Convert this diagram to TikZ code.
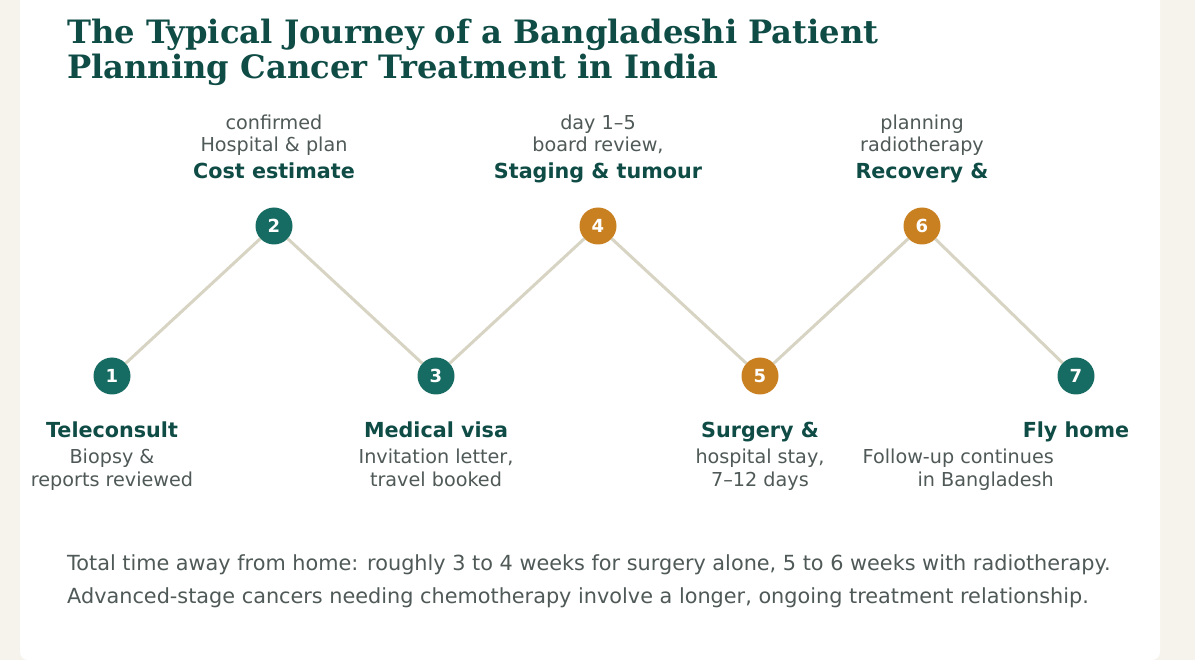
\documentclass[tikz,border=0pt]{standalone}
\usepackage{fontspec}
\setmainfont{DejaVu Sans}
\newfontfamily\titlefont{DejaVu Serif}
\usetikzlibrary{positioning}

\definecolor{bgcream}{HTML}{F6F3EC}
\definecolor{darkteal}{HTML}{0F4C46}
\definecolor{tealdot}{HTML}{166B62}
\definecolor{ochredot}{HTML}{C98021}
\definecolor{trailline}{HTML}{D8D4C3}
\definecolor{notegray}{HTML}{4F5957}

\begin{document}
\begin{tikzpicture}[x=1pt,y=-1pt]
	\tikzset{
		stepdot/.style={circle, minimum size=37pt, inner sep=0pt, text=white, font=\fontsize{18}{18}\selectfont\bfseries},
		tealstep/.style={stepdot, fill=tealdot},
		ochrestep/.style={stepdot, fill=ochredot},
		steplabel/.style={text=darkteal, inner sep=0pt, anchor=base, font=\fontsize{20.7}{24}\selectfont\bfseries},
		stepnote/.style={text=notegray, inner sep=0pt, anchor=base, font=\fontsize{19.2}{23}\selectfont},
		trail/.style={draw=trailline, line width=3pt},
		footnote/.style={text=notegray, inner sep=0pt, anchor=base west, font=\fontsize{20.8}{24}\selectfont}
	}
	\clip (0,0) rectangle (1195,660);
	\fill[bgcream] (0,0) rectangle (1195,660);
	\fill[white, rounded corners=8pt] (20,-20) rectangle (1160,660);

	% title
	\node[text=darkteal, inner sep=0pt, anchor=base west, font=\titlefont\fontsize{32.2}{36}\selectfont\bfseries] (title1) at (67,43.3) {The Typical Journey of a Bangladeshi Patient};
	\node[text=darkteal, inner sep=0pt, anchor=base west, font=\titlefont\fontsize{32.2}{36}\selectfont\bfseries] (title2) at (67,79) {Planning Cancer Treatment in India};

	% steps
	\node[tealstep] (s1) at (112,376) {1};
	\node[tealstep] (s2) at (274,226) {2};
	\node[tealstep] (s3) at (436,376) {3};
	\node[ochrestep] (s4) at (598,226) {4};
	\node[ochrestep] (s5) at (760,376) {5};
	\node[ochrestep] (s6) at (922,226) {6};
	\node[tealstep] (s7) at (1076,376) {7};

	\draw[trail] (s1) -- (s2);
	\draw[trail] (s2) -- (s3);
	\draw[trail] (s3) -- (s4);
	\draw[trail] (s4) -- (s5);
	\draw[trail] (s5) -- (s6);
	\draw[trail] (s6) -- (s7);

	% labels above
	\node[stepnote] (n2a) at (274,129.3) {confirmed};
	\node[stepnote] (n2b) at (274,151.7) {Hospital \& plan};
	\node[steplabel] (l2) at (274,179) {Cost estimate};
	\node[stepnote] (n4a) at (598,129.3) {day 1–5};
	\node[stepnote] (n4b) at (598,151.7) {board review,};
	\node[steplabel] (l4) at (598,179) {Staging \& tumour};
	\node[stepnote] (n6a) at (922,129.3) {planning};
	\node[stepnote] (n6b) at (922,151.7) {radiotherapy};
	\node[steplabel] (l6) at (922,179) {Recovery \&};

	% labels below
	\node[steplabel] (l1) at (112,437.3) {Teleconsult};
	\node[stepnote] (n1a) at (112,464) {Biopsy \&};
	\node[stepnote] (n1b) at (112,486.7) {reports reviewed};
	\node[steplabel] (l3) at (436,437.3) {Medical visa};
	\node[stepnote] (n3a) at (436,464) {Invitation letter,};
	\node[stepnote] (n3b) at (436,486.7) {travel booked};
	\node[steplabel] (l5) at (760,437.3) {Surgery \&};
	\node[stepnote] (n5a) at (760,464) {hospital stay,};
	\node[stepnote] (n5b) at (760,486.7) {7–12 days};
	\node[steplabel] (l7) at (1076,437.3) {Fly home};
	\node[stepnote, anchor=base east] (n7a) at (1054,464) {Follow-up continues};
	\node[stepnote, anchor=base east] (n7b) at (1054,486.7) {in Bangladesh};

	% footer
	\node[footnote] (f1) at (67,570) {Total time away from home: roughly 3 to 4 weeks for surgery alone, 5 to 6 weeks with radiotherapy.};
	\node[footnote] (f2) at (67,603.5) {Advanced-stage cancers needing chemotherapy involve a longer, ongoing treatment relationship.};
\end{tikzpicture}
\end{document}
